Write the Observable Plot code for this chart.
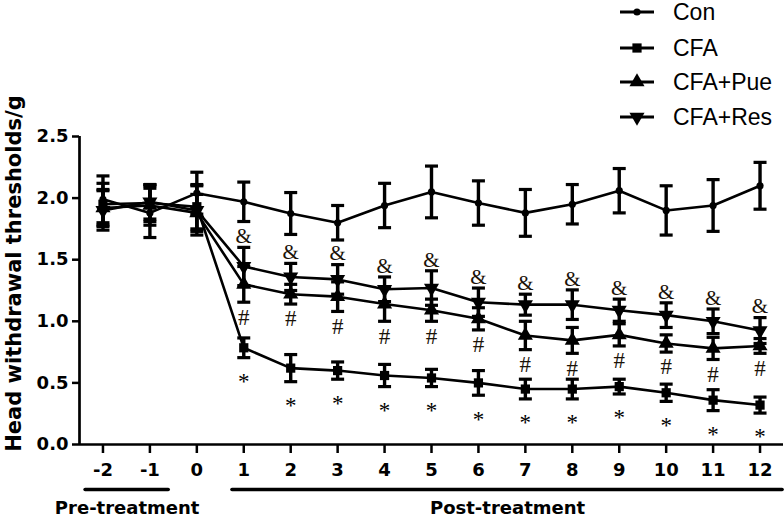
<!DOCTYPE html>
<html>
<head>
<meta charset="utf-8">
<script src="https://cdn.jsdelivr.net/npm/d3@7"></script>
<script src="https://cdn.jsdelivr.net/npm/@observablehq/plot@0.6"></script>
<style>
  html, body { margin: 0; padding: 0; background: #fff; }
  #wrap { position: relative; width: 784px; height: 522px; overflow: hidden; }
  #legend { position: absolute; left: 620px; top: 0; font-family: "Liberation Sans", Arial, sans-serif; font-size: 23px; color: #000; }
  .row { position: absolute; left: 0; height: 30px; display: flex; align-items: center; white-space: nowrap; }
  .row svg { width: 34px; height: 14px; margin-right: 19px; overflow: visible; }
</style>
</head>
<body>
<div id="wrap"><div id="legend"></div></div>
<script>
// ---------- data ----------
const days = [-2, -1, 0, 1, 2, 3, 4, 5, 6, 7, 8, 9, 10, 11, 12];
const seriesNames = ["Con", "CFA", "CFA+Pue", "CFA+Res"];

const conMean = [1.99, 1.88, 2.04, 1.97, 1.875, 1.80, 1.94, 2.05, 1.96, 1.88, 1.95, 2.06, 1.90, 1.94, 2.10];
const conSem  = [0.19, 0.20, 0.17, 0.16, 0.17, 0.14, 0.18, 0.21, 0.18, 0.19, 0.16, 0.18, 0.20, 0.21, 0.19];

const cfaMean = [1.95, 1.96, 1.93, 0.785, 0.62, 0.60, 0.56, 0.54, 0.50, 0.45, 0.45, 0.47, 0.42, 0.36, 0.32];
const cfaSem  = [0.17, 0.15, 0.18, 0.08, 0.11, 0.07, 0.09, 0.07, 0.10, 0.08, 0.08, 0.06, 0.07, 0.085, 0.065];

const pueMean = [1.92, 1.94, 1.88, 1.30, 1.22, 1.20, 1.14, 1.09, 1.02, 0.885, 0.845, 0.89, 0.82, 0.78, 0.80];
const pueSem  = [0.15, 0.16, 0.15, 0.145, 0.08, 0.12, 0.14, 0.09, 0.09, 0.115, 0.105, 0.09, 0.07, 0.09, 0.06];

const resMean = [1.90, 1.97, 1.90, 1.445, 1.36, 1.34, 1.26, 1.27, 1.155, 1.135, 1.135, 1.09, 1.05, 1.00, 0.925];
const resSem  = [0.16, 0.14, 0.20, 0.155, 0.11, 0.12, 0.10, 0.14, 0.115, 0.085, 0.12, 0.09, 0.10, 0.10, 0.105];

const cfaSig = ["", "", "", "*", "*", "*", "*", "*", "*", "*", "*", "*", "*", "*", "*"];
const pueSig = ["", "", "", "#", "#", "#", "#", "#", "#", "#", "#", "#", "#", "#", "#"];
const resSig = ["", "", "", "&", "&", "&", "&", "&", "&", "&", "&", "&", "&", "&", "&"];

const yTicks = [0, 0.5, 1.0, 1.5, 2.0, 2.5];
const yLabel = "Head withdrawal thresholds/g";

const periodLabels = ["Pre-treatment", "Post-treatment"];
const periodStart = [-2.37, 0.76];
const periodEnd = [-0.6, 12.48];

// ---------- build tables ----------
function rows(name, mean, sem, sig) {
  return days.map((d, i) => ({series: name, day: d, mean: mean[i], sem: sem[i], sig: sig ? sig[i] : ""}));
}
const con = rows("Con", conMean, conSem);
const cfa = rows("CFA", cfaMean, cfaSem, cfaSig);
const pue = rows("CFA+Pue", pueMean, pueSem, pueSig);
const res = rows("CFA+Res", resMean, resSem, resSig);
const all = [...con, ...cfa, ...pue, ...res];
const periods = periodLabels.map((l, i) => ({label: l, x1: periodStart[i], x2: periodEnd[i], mid: (periodStart[i] + periodEnd[i]) / 2}));

// custom symbols
const sqrt3 = Math.sqrt(3);
const triangleDown = {
  draw(context, size) {
    const y = -Math.sqrt(size / (sqrt3 * 3));
    context.moveTo(0, -y * 2);
    context.lineTo(-sqrt3 * y, y);
    context.lineTo(sqrt3 * y, y);
    context.closePath();
  }
};
const capSymbol = {
  draw(context, size) {
    const r = Math.sqrt(size / Math.PI);
    context.moveTo(-r, 0);
    context.lineTo(r, 0);
  }
};
const symbolFor = {"Con": "circle", "CFA": "square", "CFA+Pue": "triangle", "CFA+Res": triangleDown};
const radiusFor = {"Con": 3.6, "CFA": 5.2, "CFA+Pue": 5.6, "CFA+Res": 5.6};

const marks = [];
// axis lines
marks.push(Plot.ruleY([0], {stroke: "black", strokeWidth: 2.7}));
marks.push(Plot.ruleX([-2.5], {stroke: "black", strokeWidth: 2.7}));
marks.push(Plot.axisY({ticks: yTicks, tickSize: 7, tickPadding: 4, tickFormat: d3.format(".1f"),
  fontSize: 18, fontWeight: "bold", strokeWidth: 2.5, label: null}));
marks.push(Plot.axisX({ticks: days, tickSize: 9, tickPadding: 10, tickFormat: d => String(d),
  fontSize: 18, fontWeight: "bold", strokeWidth: 2.5, label: null}));
// y title
marks.push(Plot.text([yLabel], {text: d => d, frameAnchor: "left", textAnchor: "middle", rotate: -90,
  dx: -65, dy: -17, fontSize: 21, fontWeight: "bold"}));

for (const s of [con, cfa, pue, res]) {
  marks.push(Plot.line(s, {x: "day", y: "mean", stroke: "black", strokeWidth: 2.6}));
}
marks.push(Plot.ruleX(all, {x: "day", y1: d => d.mean - d.sem, y2: d => d.mean + d.sem, stroke: "black", strokeWidth: 3.4}));
marks.push(Plot.dot(all, {x: "day", y: d => d.mean + d.sem, symbol: capSymbol, r: 6.5, stroke: "black", strokeWidth: 3.2, fill: "none"}));
marks.push(Plot.dot(all, {x: "day", y: d => d.mean - d.sem, symbol: capSymbol, r: 6.5, stroke: "black", strokeWidth: 3.2, fill: "none"}));
for (const s of [con, cfa, pue, res]) {
  const name = s[0].series;
  marks.push(Plot.dot(s, {x: "day", y: "mean", symbol: symbolFor[name], r: radiusFor[name], fill: "black", stroke: "none"}));
}
// significance marks
marks.push(Plot.text(res, {x: "day", y: d => d.mean + d.sem, text: "sig", dy: -11, fontFamily: "Liberation Serif", fontSize: 21, fill: "#1a1208"}));
marks.push(Plot.text(pue, {x: "day", y: d => d.mean - d.sem, text: "sig", dy: 15, fontFamily: "Liberation Serif", fontSize: 23, fill: "#1a1208"}));
marks.push(Plot.text(cfa, {x: "day", y: d => d.mean - d.sem, text: "sig", dy: 24, fontFamily: "Liberation Serif", fontSize: 23, fill: "#000"}));
// treatment periods
marks.push(Plot.ruleY(periods, {x1: "x1", x2: "x2", y: 0, dy: 45, stroke: "black", strokeWidth: 3.6, strokeLinecap: "round"}));
marks.push(Plot.text(periods, {x: "mid", y: 0, text: "label", dy: 64, fontSize: 18, fontWeight: "bold"}));

const chart = Plot.plot({
  width: 784,
  height: 522,
  marginTop: 136,
  marginBottom: 78,
  marginLeft: 79,
  marginRight: 1,
  x: {domain: [-2.5, 12.5]},
  y: {domain: [0, 2.5]},
  style: {fontFamily: "'DejaVu Sans', sans-serif", color: "black", background: "white", overflow: "visible"},
  marks
});
document.getElementById("wrap").prepend(chart);

// ---------- legend ----------
const legend = document.getElementById("legend");
const rowCenters = [12, 48, 82, 117];
seriesNames.forEach((name, i) => {
  const row = document.createElement("div");
  row.className = "row";
  row.style.top = (rowCenters[i] - 15) + "px";
  const svg = d3.create("svg").attr("viewBox", "0 -7 34 14");
  svg.append("line").attr("x1", 0).attr("x2", 34).attr("y1", 0).attr("y2", 0).attr("stroke", "black").attr("stroke-width", 3);
  const sym = symbolFor[name];
  const symType = sym === "circle" ? d3.symbolCircle : sym === "square" ? d3.symbolSquare : sym === "triangle" ? d3.symbolTriangle : sym;
  const r = radiusFor[name];
  svg.append("path").attr("transform", "translate(17,0)").attr("d", d3.symbol(symType, Math.PI * r * r)()).attr("fill", "black");
  row.appendChild(svg.node());
  const t = document.createElement("span");
  t.textContent = name;
  row.appendChild(t);
  legend.appendChild(row);
});
</script>
</body>
</html>
